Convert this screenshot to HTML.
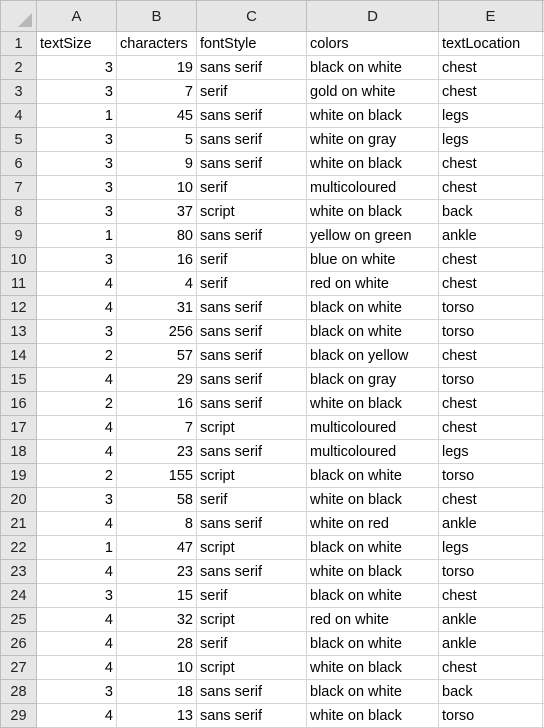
<!DOCTYPE html><html><head><style>
body{margin:0;background:#fff;width:544px;height:713px;overflow:hidden;font-family:"Liberation Sans",Arial,sans-serif;font-size:14.5px;color:#000}
table{border-collapse:collapse;table-layout:fixed;position:absolute;left:0;top:0;width:554px}
td{border:1px solid #d4d4d4;height:21px;padding:2px 3px 0 3px;white-space:nowrap;overflow:hidden;line-height:21px}
tr:first-child td{height:28px;line-height:26px;background:#e6e6e6;text-align:center;border-color:#bdbdbd;color:#222;font-size:15px}
td:first-child{background:#e6e6e6;text-align:center;border-color:#bdbdbd;color:#222}
td.n{text-align:right}
</style></head><body>
<table>
<colgroup><col style="width:36px"><col style="width:80px"><col style="width:80px"><col style="width:110px"><col style="width:132px"><col style="width:104px"><col style="width:12px"></colgroup>
<tr><td style="position:relative"><div style="position:absolute;right:4px;bottom:4px;width:0;height:0;border-left:14px solid transparent;border-bottom:14px solid #b8b8b8"></div></td><td>A</td><td>B</td><td>C</td><td>D</td><td>E</td><td></td></tr>
<tr><td>1</td><td>textSize</td><td>characters</td><td>fontStyle</td><td>colors</td><td>textLocation</td><td></td></tr>
<tr><td>2</td><td class=n>3</td><td class=n>19</td><td>sans serif</td><td>black on white</td><td>chest</td><td></td></tr>
<tr><td>3</td><td class=n>3</td><td class=n>7</td><td>serif</td><td>gold on white</td><td>chest</td><td></td></tr>
<tr><td>4</td><td class=n>1</td><td class=n>45</td><td>sans serif</td><td>white on black</td><td>legs</td><td></td></tr>
<tr><td>5</td><td class=n>3</td><td class=n>5</td><td>sans serif</td><td>white on gray</td><td>legs</td><td></td></tr>
<tr><td>6</td><td class=n>3</td><td class=n>9</td><td>sans serif</td><td>white on black</td><td>chest</td><td></td></tr>
<tr><td>7</td><td class=n>3</td><td class=n>10</td><td>serif</td><td>multicoloured</td><td>chest</td><td></td></tr>
<tr><td>8</td><td class=n>3</td><td class=n>37</td><td>script</td><td>white on black</td><td>back</td><td></td></tr>
<tr><td>9</td><td class=n>1</td><td class=n>80</td><td>sans serif</td><td>yellow on green</td><td>ankle</td><td></td></tr>
<tr><td>10</td><td class=n>3</td><td class=n>16</td><td>serif</td><td>blue on white</td><td>chest</td><td></td></tr>
<tr><td>11</td><td class=n>4</td><td class=n>4</td><td>serif</td><td>red on white</td><td>chest</td><td></td></tr>
<tr><td>12</td><td class=n>4</td><td class=n>31</td><td>sans serif</td><td>black on white</td><td>torso</td><td></td></tr>
<tr><td>13</td><td class=n>3</td><td class=n>256</td><td>sans serif</td><td>black on white</td><td>torso</td><td></td></tr>
<tr><td>14</td><td class=n>2</td><td class=n>57</td><td>sans serif</td><td>black on yellow</td><td>chest</td><td></td></tr>
<tr><td>15</td><td class=n>4</td><td class=n>29</td><td>sans serif</td><td>black on gray</td><td>torso</td><td></td></tr>
<tr><td>16</td><td class=n>2</td><td class=n>16</td><td>sans serif</td><td>white on black</td><td>chest</td><td></td></tr>
<tr><td>17</td><td class=n>4</td><td class=n>7</td><td>script</td><td>multicoloured</td><td>chest</td><td></td></tr>
<tr><td>18</td><td class=n>4</td><td class=n>23</td><td>sans serif</td><td>multicoloured</td><td>legs</td><td></td></tr>
<tr><td>19</td><td class=n>2</td><td class=n>155</td><td>script</td><td>black on white</td><td>torso</td><td></td></tr>
<tr><td>20</td><td class=n>3</td><td class=n>58</td><td>serif</td><td>white on black</td><td>chest</td><td></td></tr>
<tr><td>21</td><td class=n>4</td><td class=n>8</td><td>sans serif</td><td>white on red</td><td>ankle</td><td></td></tr>
<tr><td>22</td><td class=n>1</td><td class=n>47</td><td>script</td><td>black on white</td><td>legs</td><td></td></tr>
<tr><td>23</td><td class=n>4</td><td class=n>23</td><td>sans serif</td><td>white on black</td><td>torso</td><td></td></tr>
<tr><td>24</td><td class=n>3</td><td class=n>15</td><td>serif</td><td>black on white</td><td>chest</td><td></td></tr>
<tr><td>25</td><td class=n>4</td><td class=n>32</td><td>script</td><td>red on white</td><td>ankle</td><td></td></tr>
<tr><td>26</td><td class=n>4</td><td class=n>28</td><td>serif</td><td>black on white</td><td>ankle</td><td></td></tr>
<tr><td>27</td><td class=n>4</td><td class=n>10</td><td>script</td><td>white on black</td><td>chest</td><td></td></tr>
<tr><td>28</td><td class=n>3</td><td class=n>18</td><td>sans serif</td><td>black on white</td><td>back</td><td></td></tr>
<tr><td>29</td><td class=n>4</td><td class=n>13</td><td>sans serif</td><td>white on black</td><td>torso</td><td></td></tr>
</table>
</body></html>
